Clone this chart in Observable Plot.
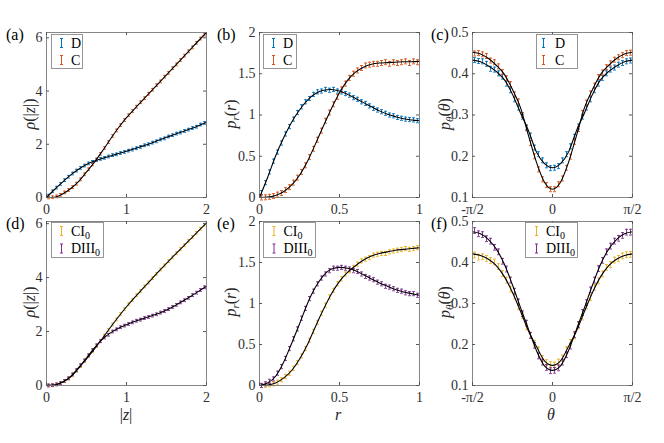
<!DOCTYPE html>
<html><head><meta charset="utf-8">
<script src="https://cdn.jsdelivr.net/npm/d3@7"></script>
<script src="https://cdn.jsdelivr.net/npm/@observablehq/plot@0.6"></script>
<style>
html,body{margin:0;padding:0;background:#fff;}
#fig{position:relative;width:664px;height:443px;overflow:hidden;background:#fff;}
#fig svg{position:absolute;left:0;top:0;}
#fig svg, #fig svg text{font-family:"Liberation Serif","Times New Roman",Tinos,serif !important;}
</style></head><body><div id="fig"></div>
<script>
// ---- bin centres / theory grids (x positions) ----
const zBins = d3.range(40).map(i => 0.025 + 0.05 * i);
const zGrid = d3.range(21).map(i => 0.1 * i);
const rBins = d3.range(40).map(i => 0.0125 + 0.025 * i);
const rGrid = d3.range(21).map(i => 0.05 * i);
const thBins = d3.range(40).map(i => (i - 19.5) * Math.PI / 40);
const thGrid = d3.range(21).map(i => (i - 10) * Math.PI / 20);

// ---- tick labels ----
const zTicks = [0, 1, 2];
const rTicks = [0, 0.5, 1];
const thTicks = [-Math.PI / 2, 0, Math.PI / 2];
const thTickLabels = ["-π/2", "0", "π/2"];
const rhoTicks = [0, 2, 4, 6];
const prTicks = [0, 0.5, 1, 1.5, 2];
const pthTicks = [0.1, 0.2, 0.3, 0.4, 0.5];

// ---- (a) rho(|z|), classes D and C ----
const aDdata = [0.07,0.23,0.37,0.51,0.65,0.78,0.90,1.01,1.11,1.20,1.28,1.34,1.40,1.45,1.49,1.54,1.59,1.62,1.67,1.71,1.76,1.80,1.85,1.90,1.96,2.00,2.06,2.11,2.18,2.22,2.29,2.34,2.40,2.44,2.50,2.55,2.61,2.66,2.74,2.80];
const aCdata = [0.00,0.01,0.04,0.10,0.19,0.28,0.39,0.52,0.68,0.87,1.06,1.24,1.43,1.64,1.86,2.08,2.31,2.52,2.72,2.91,3.09,3.25,3.41,3.58,3.73,3.90,4.05,4.22,4.36,4.54,4.68,4.86,5.00,5.17,5.33,5.49,5.64,5.81,5.97,6.12];
const aDtheory = [0,0.30,0.58,0.84,1.06,1.24,1.37,1.47,1.56,1.65,1.74,1.83,1.93,2.03,2.15,2.26,2.37,2.47,2.58,2.70,2.83];
const aCtheory = [0,0.01,0.13,0.33,0.60,0.96,1.33,1.75,2.20,2.62,3.00,3.33,3.65,3.97,4.29,4.61,4.93,5.25,5.57,5.89,6.20];

// ---- (b) p_r(r), D and C ----
const bDdata = [0.06,0.18,0.31,0.44,0.55,0.66,0.77,0.86,0.95,1.03,1.10,1.16,1.20,1.25,1.28,1.29,1.31,1.30,1.31,1.29,1.28,1.26,1.24,1.21,1.19,1.16,1.14,1.11,1.08,1.06,1.04,1.02,1.00,0.99,0.97,0.96,0.95,0.945,0.94,0.93];
const bCdata = [0.000,0.002,0.008,0.017,0.035,0.055,0.090,0.125,0.180,0.240,0.310,0.390,0.490,0.590,0.700,0.810,0.930,1.030,1.130,1.220,1.310,1.380,1.450,1.500,1.540,1.570,1.600,1.610,1.620,1.620,1.630,1.640,1.620,1.640,1.630,1.640,1.650,1.630,1.650,1.640];
const bDtheory = [0,0.24,0.50,0.72,0.91,1.06,1.18,1.26,1.30,1.31,1.29,1.25,1.20,1.15,1.10,1.05,1.01,0.98,0.955,0.94,0.93];
const bCtheory = [0,0.004,0.025,0.07,0.15,0.27,0.44,0.65,0.87,1.08,1.27,1.42,1.52,1.58,1.615,1.63,1.635,1.64,1.645,1.645,1.65];

// ---- (c) p_theta(theta), D and C ----
const cDdata = [0.433,0.431,0.430,0.424,0.412,0.410,0.401,0.393,0.376,0.360,0.338,0.318,0.296,0.270,0.250,0.221,0.205,0.190,0.178,0.171,
                0.172,0.176,0.190,0.205,0.224,0.247,0.272,0.296,0.318,0.338,0.360,0.376,0.390,0.401,0.410,0.415,0.422,0.426,0.430,0.432];
const cCdata = [0.449,0.450,0.447,0.443,0.432,0.428,0.418,0.404,0.389,0.375,0.350,0.333,0.300,0.268,0.232,0.200,0.168,0.144,0.130,0.120,
                0.120,0.132,0.146,0.172,0.199,0.235,0.266,0.305,0.330,0.352,0.371,0.392,0.403,0.416,0.425,0.434,0.440,0.445,0.450,0.451];
const cDtheory = [0.433,0.429,0.419,0.405,0.385,0.350,0.305,0.262,0.210,0.182,0.172,0.182,0.210,0.262,0.305,0.350,0.385,0.405,0.419,0.429,0.433];
const cCtheory = [0.452,0.448,0.437,0.420,0.398,0.362,0.318,0.250,0.185,0.137,0.120,0.137,0.185,0.250,0.318,0.362,0.398,0.420,0.437,0.448,0.452];

// ---- (d) rho(|z|), CI0 and DIII0 ----
const dCIdata = [0.00,0.01,0.04,0.08,0.16,0.25,0.38,0.54,0.72,0.90,1.08,1.27,1.46,1.65,1.85,2.06,2.26,2.45,2.65,2.83,3.01,3.17,3.35,3.50,3.67,3.82,3.98,4.14,4.30,4.45,4.61,4.75,4.91,5.06,5.20,5.36,5.51,5.66,5.81,5.96];
const dDIIIdata = [0.00,0.01,0.04,0.09,0.17,0.27,0.41,0.57,0.75,0.93,1.12,1.31,1.49,1.64,1.78,1.88,2.00,2.08,2.16,2.22,2.28,2.34,2.40,2.44,2.50,2.54,2.59,2.64,2.70,2.76,2.83,2.91,2.99,3.08,3.16,3.25,3.35,3.44,3.54,3.64];
const dCItheory = [0,0.02,0.12,0.31,0.63,0.99,1.36,1.75,2.16,2.55,2.92,3.26,3.58,3.90,4.22,4.53,4.83,5.13,5.43,5.73,6.03];
const dDIIItheory = [0,0.02,0.13,0.33,0.66,1.02,1.40,1.72,1.95,2.12,2.25,2.37,2.47,2.57,2.67,2.80,2.95,3.12,3.30,3.49,3.68];

// ---- (e) p_r(r), CI0 and DIII0 ----
const eCIdata = [0.000,0.002,0.010,0.020,0.040,0.070,0.110,0.150,0.210,0.280,0.360,0.450,0.550,0.660,0.770,0.880,0.980,1.080,1.160,1.240,1.300,1.360,1.400,1.440,1.480,1.520,1.540,1.560,1.590,1.600,1.610,1.610,1.630,1.640,1.650,1.660,1.670,1.660,1.670,1.680];
const eDIIIdata = [0.00,0.02,0.05,0.08,0.15,0.23,0.33,0.45,0.57,0.69,0.82,0.94,1.06,1.15,1.24,1.31,1.36,1.40,1.43,1.43,1.44,1.43,1.42,1.40,1.39,1.36,1.33,1.31,1.29,1.26,1.24,1.21,1.20,1.18,1.16,1.15,1.13,1.12,1.12,1.10];
const eCItheory = [0,0.005,0.03,0.09,0.18,0.32,0.50,0.72,0.93,1.12,1.27,1.38,1.46,1.53,1.58,1.61,1.63,1.65,1.66,1.67,1.68];
const eDIIItheory = [0,0.03,0.11,0.28,0.51,0.75,1.00,1.20,1.34,1.42,1.44,1.43,1.40,1.35,1.30,1.25,1.21,1.17,1.14,1.12,1.10];

// ---- (f) p_theta(theta), CI0 and DIII0 ----
const fCIdata = [0.418,0.413,0.414,0.410,0.405,0.401,0.390,0.373,0.357,0.335,0.318,0.292,0.270,0.243,0.223,0.203,0.187,0.166,0.156,0.151,
                 0.150,0.157,0.167,0.187,0.205,0.221,0.246,0.267,0.294,0.314,0.339,0.355,0.372,0.388,0.395,0.406,0.410,0.416,0.419,0.420];
const fDIIIdata = [0.478,0.470,0.468,0.458,0.452,0.437,0.426,0.403,0.384,0.357,0.330,0.304,0.275,0.252,0.222,0.198,0.172,0.157,0.144,0.136,
                   0.137,0.143,0.157,0.175,0.196,0.224,0.249,0.278,0.302,0.333,0.357,0.385,0.405,0.426,0.440,0.452,0.459,0.466,0.474,0.474];
const fCItheory = [0.421,0.417,0.408,0.392,0.365,0.327,0.281,0.233,0.195,0.160,0.149,0.160,0.195,0.233,0.281,0.327,0.365,0.392,0.408,0.417,0.421];
const fDIIItheory = [0.475,0.470,0.456,0.432,0.395,0.345,0.290,0.237,0.185,0.148,0.137,0.148,0.185,0.237,0.290,0.345,0.395,0.432,0.456,0.470,0.475];

// ---- error-bar half widths (per series) ----
const errA = [0.05, 0.05], errB = [0.025, 0.03], errC = [0.006, 0.006];
const errD = [0.05, 0.05], errE = [0.025, 0.025], errF = [0.007, 0.007];

const BLUE = "#0072BD", ORANGE = "#D95319", YELLOW = "#EDB120", PURPLE = "#7E2F8E";
const FONT = '"Liberation Serif", "Times New Roman", Tinos, serif';

const W = 664, H = 443, PW = 160;
const numFmt = d => String(d);
const thFmt = d => thTickLabels[thTicks.indexOf(d)];

const panels = [
  {x0: 46, y0: 32, h: 165, xd: [0, 2], yd: [0, 6.2], xt: zTicks, yt: rhoTicks, xf: numFmt,
   series: [{x: zBins, y: aDdata, e: errA[0], c: BLUE, tx: zGrid, ty: aDtheory},
            {x: zBins, y: aCdata, e: errA[1], c: ORANGE, tx: zGrid, ty: aCtheory}]},
  {x0: 259, y0: 32, h: 165, xd: [0, 1], yd: [0, 2], xt: rTicks, yt: prTicks, xf: numFmt,
   series: [{x: rBins, y: bDdata, e: errB[0], c: BLUE, tx: rGrid, ty: bDtheory},
            {x: rBins, y: bCdata, e: errB[1], c: ORANGE, tx: rGrid, ty: bCtheory}]},
  {x0: 472, y0: 32, h: 165, xd: [-Math.PI / 2, Math.PI / 2], yd: [0.1, 0.5], xt: thTicks, yt: pthTicks, xf: thFmt,
   series: [{x: thBins, y: cDdata, e: errC[0], c: BLUE, tx: thGrid, ty: cDtheory},
            {x: thBins, y: cCdata, e: errC[1], c: ORANGE, tx: thGrid, ty: cCtheory}]},
  {x0: 46, y0: 221, h: 164, xd: [0, 2], yd: [0, 6.08], xt: zTicks, yt: rhoTicks, xf: numFmt,
   series: [{x: zBins, y: dCIdata, e: errD[0], c: YELLOW, tx: zGrid, ty: dCItheory},
            {x: zBins, y: dDIIIdata, e: errD[1], c: PURPLE, tx: zGrid, ty: dDIIItheory}]},
  {x0: 259, y0: 221, h: 164, xd: [0, 1], yd: [0, 2], xt: rTicks, yt: prTicks, xf: numFmt,
   series: [{x: rBins, y: eCIdata, e: errE[0], c: YELLOW, tx: rGrid, ty: eCItheory},
            {x: rBins, y: eDIIIdata, e: errE[1], c: PURPLE, tx: rGrid, ty: eDIIItheory}]},
  {x0: 472, y0: 221, h: 164, xd: [-Math.PI / 2, Math.PI / 2], yd: [0.1, 0.5], xt: thTicks, yt: pthTicks, xf: thFmt,
   series: [{x: thBins, y: fCIdata, e: errF[0], c: YELLOW, tx: thGrid, ty: fCItheory},
            {x: thBins, y: fDIIIdata, e: errF[1], c: PURPLE, tx: thGrid, ty: fDIIItheory}]}
];

const cap = {draw(ctx) { ctx.moveTo(-1.5, 0); ctx.lineTo(1.5, 0); }};
const fig = document.getElementById("fig");

for (const p of panels) {
  const marks = [];
  for (const s of p.series) {
    const pts = s.x.map((x, i) => ({x, y: s.y[i], lo: s.y[i] - s.e, hi: s.y[i] + s.e}));
    marks.push(Plot.ruleX(pts, {x: "x", y1: "lo", y2: "hi", stroke: s.c, strokeWidth: 0.9}));
    marks.push(Plot.dot(pts, {x: "x", y: "lo", symbol: cap, r: 1.5, fill: "none", stroke: s.c, strokeWidth: 0.9}));
    marks.push(Plot.dot(pts, {x: "x", y: "hi", symbol: cap, r: 1.5, fill: "none", stroke: s.c, strokeWidth: 0.9}));
  }
  for (const s of p.series) {
    const th = s.tx.map((x, i) => ({x, y: s.ty[i]}));
    marks.push(Plot.line(th, {x: "x", y: "y", stroke: "#000", strokeWidth: 1.1, curve: "monotone-x"}));
  }
  marks.push(
    Plot.frame({stroke: "#7a7a7a", strokeWidth: 0.9}),
    Plot.tickX(p.xt, {x: d => d, insetTop: p.h - 3, stroke: "#555"}),
    Plot.tickX(p.xt, {x: d => d, insetBottom: p.h - 3, stroke: "#555"}),
    Plot.tickY(p.yt, {y: d => d, insetRight: PW - 3, stroke: "#555"}),
    Plot.tickY(p.yt, {y: d => d, insetLeft: PW - 3, stroke: "#555"}),
    Plot.axisX({ticks: p.xt, tickFormat: p.xf, tickSize: 0, tickPadding: 7, label: null, color: "#303030", fontSize: 14, fontFamily: FONT}),
    Plot.axisY({ticks: p.yt, tickFormat: numFmt, tickSize: 0, tickPadding: 4, label: null, color: "#303030", fontSize: 14, fontFamily: FONT})
  );
  const svg = Plot.plot({
    width: W, height: H,
    marginLeft: p.x0, marginRight: W - p.x0 - PW, marginTop: p.y0, marginBottom: H - p.y0 - p.h,
    x: {domain: p.xd}, y: {domain: p.yd},
    style: `background: none; font-family: ${FONT}; font-size: 14px; overflow: visible;`,
    marks
  });
  fig.appendChild(svg);
}

// ---- overlay: panel letters, axis titles, legends ----
const ov = d3.select(fig).append("svg").attr("width", W).attr("height", H)
  .attr("font-family", FONT).style("overflow", "visible");

const letters = [["(a)", 6, 40], ["(b)", 217, 40], ["(c)", 431, 40], ["(d)", 6, 229], ["(e)", 217, 229], ["(f)", 431, 229]];
for (const [t, x, y] of letters) ov.append("text").attr("x", x).attr("y", y).attr("font-family", FONT)
  .attr("font-size", 16).attr("fill", "#000").text(t);

function yTitle(x, y, html) {
  ov.append("text").attr("transform", `translate(${x},${y}) rotate(-90)`).attr("text-anchor", "middle")
    .attr("dy", "0.35em").attr("font-family", FONT).attr("font-size", 16).attr("fill", "#262626").html(html);
}
const rhoT = '<tspan font-style="italic">ρ</tspan>(|<tspan font-style="italic">z</tspan>|)';
const prT = '<tspan font-style="italic">p</tspan><tspan font-style="italic" font-size="11" dy="3">r</tspan><tspan dy="-3">(</tspan><tspan font-style="italic">r</tspan>)';
const ptT = '<tspan font-style="italic">p</tspan><tspan font-style="italic" font-size="11" dy="3">θ</tspan><tspan dy="-3">(</tspan><tspan font-style="italic">θ</tspan>)';
yTitle(29, 114, rhoT); yTitle(230, 114, prT); yTitle(444, 114, ptT);
yTitle(29, 302, rhoT); yTitle(230, 302, prT); yTitle(444, 302, ptT);

const xTitles = [['|<tspan font-style="italic">z</tspan>|', 126], ['<tspan font-style="italic">r</tspan>', 338], ['<tspan font-style="italic">θ</tspan>', 551]];
for (const [h, x] of xTitles) ov.append("text").attr("x", x).attr("y", 420).attr("text-anchor", "middle")
  .attr("font-family", FONT).attr("font-size", 16).attr("fill", "#262626").html(h);

const legends = [
  {box: [51, 34, 31, 34], rows: [43, 60], ix: 61.5, tx: 71, items: [["D", BLUE], ["C", ORANGE]]},
  {box: [263, 34, 33, 34], rows: [43, 60], ix: 273.5, tx: 283, items: [["D", BLUE], ["C", ORANGE]]},
  {box: [536, 34, 41, 34], rows: [43, 60], ix: 543.5, tx: 555, items: [["D", BLUE], ["C", ORANGE]]},
  {box: [51, 222, 52, 35], rows: [231, 248.5], ix: 61.5, tx: 71, items: [["CI", YELLOW], ["DIII", PURPLE]]},
  {box: [263, 222, 52, 35], rows: [231, 248.5], ix: 274, tx: 283.5, items: [["CI", YELLOW], ["DIII", PURPLE]]},
  {box: [525, 222, 52, 35], rows: [231, 248.5], ix: 536.5, tx: 546, items: [["CI", YELLOW], ["DIII", PURPLE]]}
];
for (const L of legends) {
  const [bx, by, bw, bh] = L.box;
  ov.append("rect").attr("x", bx + 0.5).attr("y", by + 0.5).attr("width", bw).attr("height", bh)
    .attr("fill", "#fff").attr("stroke", "#8a8a8a").attr("stroke-width", 0.9);
  L.items.forEach(([name, col], i) => {
    const cy = L.rows[i];
    const g = ov.append("g").attr("stroke", col).attr("stroke-width", 1);
    g.append("line").attr("x1", L.ix).attr("x2", L.ix).attr("y1", cy - 4.5).attr("y2", cy + 4.5);
    g.append("line").attr("x1", L.ix - 1.5).attr("x2", L.ix + 1.5).attr("y1", cy - 4.5).attr("y2", cy - 4.5);
    g.append("line").attr("x1", L.ix - 1.5).attr("x2", L.ix + 1.5).attr("y1", cy + 4.5).attr("y2", cy + 4.5);
    const t = ov.append("text").attr("x", L.tx).attr("y", cy + 4.5).attr("font-family", FONT)
      .attr("font-size", 14).attr("font-weight", "normal").attr("fill", "#000");
    if (name === "D" || name === "C") t.text(name);
    else t.html(`${name}<tspan font-size="10" dy="3">0</tspan>`);
  });
}
</script></body></html>
